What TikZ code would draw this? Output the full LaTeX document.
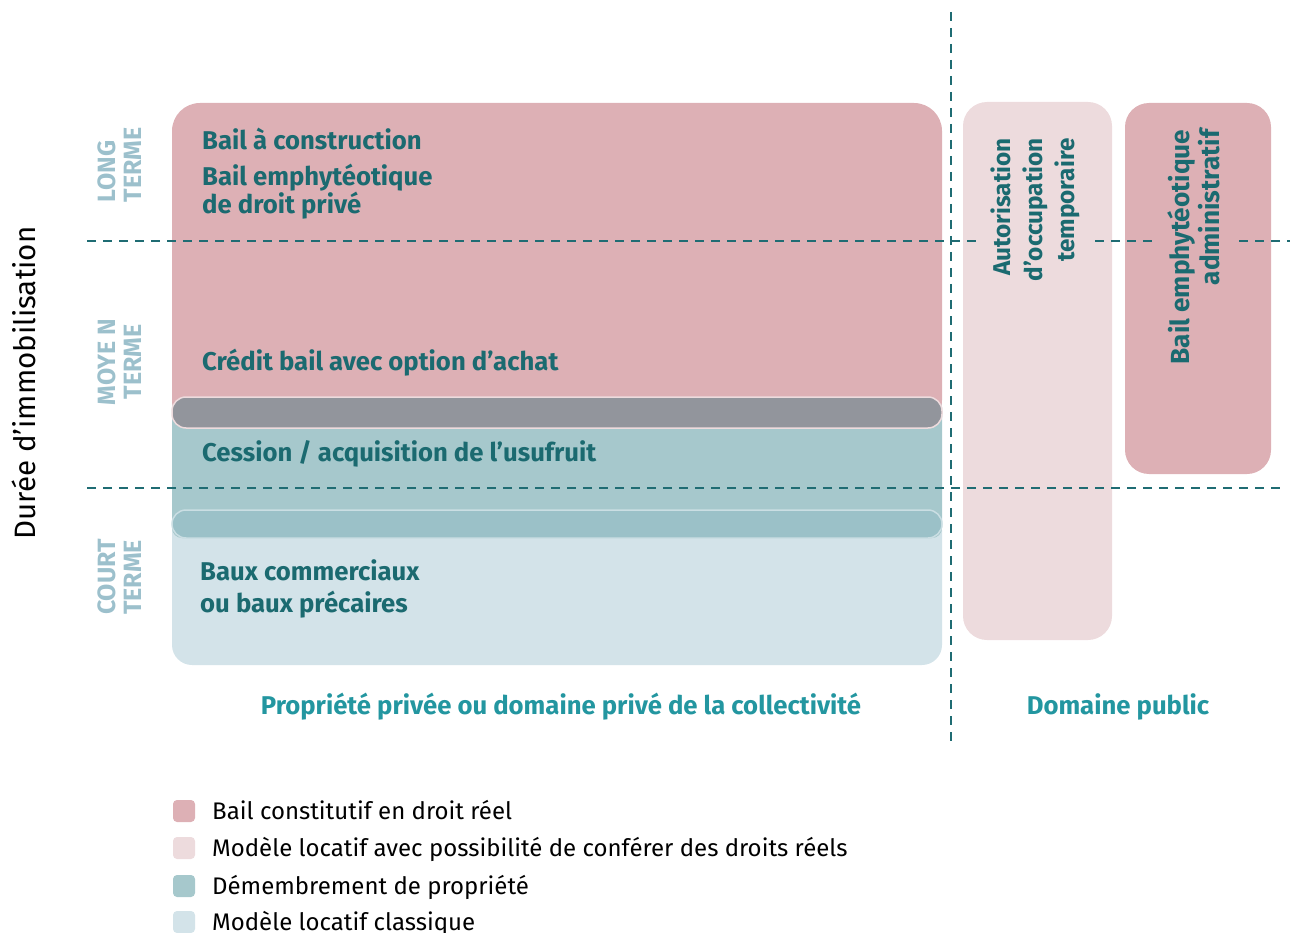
\documentclass[tikz,border=0pt]{standalone}
\usepackage{fontspec}
\setmainfont{Fira Sans}
\definecolor{pinkA}{HTML}{DDB0B5}
\definecolor{pinkB}{HTML}{EDDBDD}
\definecolor{tealA}{HTML}{A6C8CC}
\definecolor{blueA}{HTML}{D3E3E9}
\definecolor{grayPill}{HTML}{92959C}
\definecolor{tealPill}{HTML}{9BC1C8}
\definecolor{ink}{HTML}{1B6A70}
\definecolor{pale}{HTML}{9CC0CC}
\definecolor{head}{HTML}{2396A0}
\definecolor{dashc}{HTML}{1F6C73}
\begin{document}
\begin{tikzpicture}[x=1pt,y=-1pt,
  box/.style={draw=none, inner sep=0pt, rounded corners=#1},
  box/.default=24pt,
  pill/.style={inner sep=0pt, rounded corners=14pt, line width=1.5pt},
  guide/.style={draw=dashc, line width=2.4pt, dash pattern=on 9pt off 7pt},
  item/.style={text=ink, font=\fontsize{25.7}{24}\selectfont\bfseries, inner sep=0pt, align=left},
  term/.style={text=pale, font=\fontsize{25}{26}\selectfont\bfseries, inner sep=0pt, rotate=90},
  vtext/.style={text=ink, font=\fontsize{24.3}{32}\selectfont\bfseries, rotate=90, align=right, inner sep=13pt},
  heading/.style={text=head, font=\fontsize{25.7}{24}\selectfont\bfseries, inner sep=0pt},
  swatch/.style={minimum size=22pt, inner sep=0pt, rounded corners=4pt},
  legtext/.style={font=\fontsize{24}{24}\selectfont, text=black, inner sep=0pt}
]
\useasboundingbox (0,0) rectangle (1290,933);

% private domain: stacked bands
\node[box=20pt, fill=blueA, minimum width=770pt, minimum height=155pt] (court) at (557,587.5) {};
\node[box=10pt, fill=tealA, minimum width=770pt, minimum height=141pt] (demem) at (557,467.5) {};
\node[box=28pt, fill=pinkA, minimum width=770pt, minimum height=325pt] (reel) at (557,265.5) {};
\node[pill, fill=grayPill, draw=pinkB, minimum width=770pt, minimum height=31pt] (overA) at (557,412.5) {};
\node[pill, fill=tealPill, draw=blueA!80!tealA, minimum width=770pt, minimum height=28pt] (overB) at (557,524) {};

% public domain boxes
\node[box=24pt, fill=pinkB, minimum width=149pt, minimum height=538pt] (aot) at (1037.5,371) {};
\node[box=24pt, fill=pinkA, minimum width=146pt, minimum height=371pt] (bea) at (1198,288.5) {};

% term separators
\coordinate (h1a) at (87,241);
\coordinate (h1b) at (1290,241);
\coordinate (h2a) at (87,488);
\coordinate (h2b) at (1286,488);
\coordinate (v1a) at (951,12);
\coordinate (v1b) at (951,746);
\draw[guide] (h1a) -- (h1b);
\draw[guide] (h2a) -- (h2b);
\draw[guide] (v1a) -- (v1b);

% labels in the bands
\node[item, anchor=base west] (t1) at (202,150) {Bail à construction};
\node[item, anchor=base west] (t2) at (202,214) {Bail emphytéotique\\de droit privé};
\node[item, anchor=base west] (t3) at (202,370) {Crédit bail avec option d’achat};
\node[item, anchor=base west] (t4) at (202,461) {Cession / acquisition de l’usufruit};
\node[item, anchor=base west, font=\fontsize{25.7}{32}\selectfont\bfseries] (t5) at (200,612) {Baux commerciaux\\ou baux précaires};

% vertical labels in the public domain
\node[vtext, fill=pinkB] (t6) at (1035,210) {Autorisation\\d’occupation\\temporaire};
\node[vtext, fill=pinkA, font=\fontsize{26.2}{30}\selectfont\bfseries] (t7) at (1194,247) {Bail emphytéotique\\administratif};

% term axis
\node[term, align=left] (long) at (120,165) {LONG\\TERME};
\node[term, align=center] (moyen) at (120,362) {MOYE N\\TERME};
\node[term, align=left] (court-l) at (120,577) {COURT\\TERME};
\node[rotate=90, font=\fontsize{29.5}{29}\selectfont, inner sep=0pt] (axis) at (24,383) {Durée d’immobilisation};

% domain headings
\node[heading] (priv) at (561,707) {Propriété privée ou domaine privé de la collectivité};
\node[heading] (pub) at (1118,707) {Domaine public};

% legend
\node[swatch, fill=pinkA] (s1) at (184,811) {};
\node[swatch, fill=pinkB] (s2) at (184,848) {};
\node[swatch, fill=tealA] (s3) at (184,886) {};
\node[swatch, fill=blueA] (s4) at (184,922) {};
\node[legtext, anchor=base west] (l1) at (212,819) {Bail constitutif en droit réel};
\node[legtext, anchor=base west] (l2) at (212,856) {Modèle locatif avec possibilité de conférer des droits réels};
\node[legtext, anchor=base west] (l3) at (212,894) {Démembrement de propriété};
\node[legtext, anchor=base west] (l4) at (212,930) {Modèle locatif classique};
\end{tikzpicture}
\end{document}
